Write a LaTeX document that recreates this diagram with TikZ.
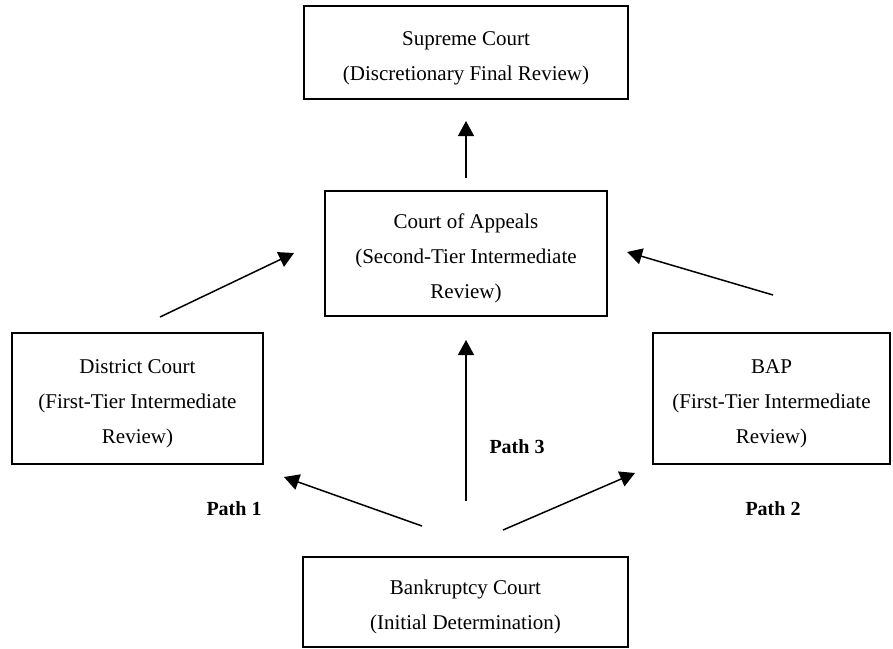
\documentclass[tikz,border=0pt]{standalone}
\usepackage{fontspec}
\setmainfont{Liberation Serif}
\usetikzlibrary{arrows.meta}
\newcommand\lst{\rule[-7.5pt]{0pt}{35pt}}
\begin{document}
\begin{tikzpicture}[x=1pt,y=-1pt,
  court/.style={draw=black, line width=1.4pt, rectangle, inner sep=0pt, align=center,
    font=\fontsize{21}{35}\selectfont},
  arr/.style={line width=1.5pt, -{Triangle[length=15pt,width=16pt]}},
  pathlbl/.style={font=\fontsize{20}{24}\selectfont\bfseries, anchor=base}]
\useasboundingbox (0,0) rectangle (893,648);
\node[court, minimum width=324pt, minimum height=93pt] (supreme) at (466,52.5)
  {\lst Supreme Court\\\lst (Discretionary Final Review)};
\node[court, minimum width=282pt, minimum height=125pt] (appeals) at (466,253.5)
  {\lst Court of Appeals\\\lst (Second-Tier Intermediate\\\lst Review)};
\node[court, minimum width=251pt, minimum height=131pt] (district) at (137.5,398.5)
  {\lst District Court\\\lst (First-Tier Intermediate\\\lst Review)};
\node[court, minimum width=237pt, minimum height=131pt] (bap) at (771.5,398.5)
  {\lst BAP\\\lst (First-Tier Intermediate\\\lst Review)};
\node[court, minimum width=325pt, minimum height=90pt] (bankruptcy) at (465.5,602)
  {\lst Bankruptcy Court\\\lst (Initial Determination)};
\coordinate (a1s) at (160,317); \coordinate (a1e) at (294,253);
\coordinate (a2s) at (773,295); \coordinate (a2e) at (627,252);
\coordinate (a3s) at (466,178); \coordinate (a3e) at (466,121);
\coordinate (p1s) at (422,526); \coordinate (p1e) at (284,477);
\coordinate (p2s) at (503,530); \coordinate (p2e) at (635,473);
\coordinate (p3s) at (466,501); \coordinate (p3e) at (466,340);
\draw[arr] (a1s) -- (a1e);
\draw[arr] (a2s) -- (a2e);
\draw[arr] (a3s) -- (a3e);
\draw[arr] (p1s) -- (p1e);
\draw[arr] (p2s) -- (p2e);
\draw[arr] (p3s) -- (p3e);
\node[pathlbl] (l1) at (234,515) {Path 1};
\node[pathlbl] (l3) at (517,453) {Path 3};
\node[pathlbl] (l2) at (773,515) {Path 2};
\end{tikzpicture}
\end{document}
